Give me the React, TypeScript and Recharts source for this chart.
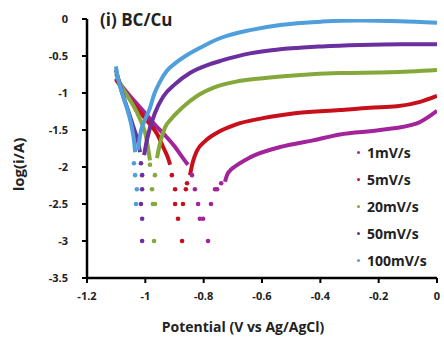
import { ComposedChart, Line, Scatter, XAxis, YAxis } from 'recharts'

type Pt = { v: number; i: number }
const pts = (a: number[][]): Pt[] => a.map(([v, i]) => ({ v, i }))

const seriesNames = ['1mV/s', '5mV/s', '20mV/s', '50mV/s', '100mV/s']
const seriesColors = ['#a3239b', '#c8101c', '#84a83a', '#6b2fa0', '#4f9fdc']
const xTicks = [-1.2, -1, -0.8, -0.6, -0.4, -0.2, 0]
const yTicks = [0, -0.5, -1, -1.5, -2, -2.5, -3, -3.5]

// 1 mV/s
const cath1 = pts([[-1.101, -0.8], [-1.07, -0.96], [-1.035, -1.12], [-1.001, -1.27], [-0.967, -1.43], [-0.933, -1.57], [-0.898, -1.73], [-0.871, -1.88], [-0.854, -1.97]])
const dots1 = pts([[-0.84, -2.11], [-0.83, -2.3], [-0.819, -2.5], [-0.813, -2.7], [-0.785, -3.0], [-0.802, -2.7], [-0.775, -2.5], [-0.761, -2.3], [-0.754, -2.3], [-0.74, -2.22]])
const anod1 = pts([[-0.727, -2.2], [-0.72, -2.11], [-0.71, -2.05], [-0.695, -2.0], [-0.641, -1.87], [-0.538, -1.73], [-0.425, -1.64], [-0.333, -1.56], [-0.195, -1.5], [-0.069, -1.41], [0, -1.24]])
// 5 mV/s
const cath5 = pts([[-1.101, -0.82], [-1.07, -0.99], [-1.042, -1.14], [-1.018, -1.26], [-0.991, -1.39], [-0.96, -1.55], [-0.939, -1.73], [-0.922, -1.88], [-0.915, -1.97]])
const dots5 = pts([[-0.909, -2.11], [-0.898, -2.3], [-0.898, -2.5], [-0.888, -2.7], [-0.874, -3.0], [-0.871, -2.5], [-0.861, -2.3], [-0.857, -2.22]])
const anod5 = pts([[-0.847, -2.11], [-0.837, -1.93], [-0.823, -1.78], [-0.795, -1.65], [-0.751, -1.53], [-0.693, -1.43], [-0.597, -1.34], [-0.48, -1.27], [-0.333, -1.23], [-0.23, -1.2], [-0.137, -1.18], [-0.058, -1.12], [0, -1.04]])
// 20 mV/s
const cath20 = pts([[-1.101, -0.74], [-1.08, -0.92], [-1.053, -1.09], [-1.029, -1.26], [-1.011, -1.42], [-0.998, -1.58], [-0.991, -1.74], [-0.984, -1.91]])
const dots20 = pts([[-0.984, -1.97], [-0.967, -2.11], [-0.977, -2.3], [-0.974, -2.5], [-0.967, -2.5], [-0.97, -3.0]])
const anod20 = pts([[-0.96, -1.88], [-0.953, -1.74], [-0.947, -1.64], [-0.933, -1.47], [-0.909, -1.34], [-0.874, -1.2], [-0.819, -1.03], [-0.761, -0.92], [-0.693, -0.85], [-0.597, -0.8], [-0.48, -0.76], [-0.333, -0.73], [-0.161, -0.72], [0, -0.69]])
// 50 mV/s
const cath50 = pts([[-1.101, -0.69], [-1.09, -0.85], [-1.077, -1.03], [-1.063, -1.19], [-1.049, -1.36], [-1.035, -1.53], [-1.025, -1.66], [-1.018, -1.8]])
const dots50 = pts([[-1.015, -1.95], [-1.011, -2.11], [-1.011, -2.3], [-1.015, -2.5], [-1.011, -2.7], [-1.011, -3.0]])
const anod50 = pts([[-1.004, -1.84], [-0.998, -1.7], [-0.984, -1.47], [-0.967, -1.27], [-0.939, -1.05], [-0.898, -0.88], [-0.847, -0.73], [-0.778, -0.61], [-0.737, -0.56], [-0.641, -0.465], [-0.538, -0.41], [-0.394, -0.37], [-0.264, -0.35], [-0.127, -0.34], [0, -0.34]])
// 100 mV/s
const cath100 = pts([[-1.101, -0.64], [-1.094, -0.8], [-1.083, -0.96], [-1.07, -1.12], [-1.056, -1.3], [-1.046, -1.47], [-1.039, -1.64], [-1.035, -1.8]])
const dots100 = pts([[-1.039, -1.95], [-1.035, -2.11], [-1.029, -2.3], [-1.032, -2.5]])
const anod100 = pts([[-1.025, -1.77], [-1.018, -1.57], [-1.001, -1.36], [-0.984, -1.2], [-0.97, -1.02], [-0.95, -0.85], [-0.926, -0.7], [-0.898, -0.6], [-0.854, -0.48], [-0.813, -0.39], [-0.768, -0.3], [-0.737, -0.25], [-0.641, -0.15], [-0.538, -0.08], [-0.394, -0.035], [-0.264, -0.02], [-0.127, -0.03], [0, -0.05]])

const curves = [
  { cath: cath1, dots: dots1, anod: anod1 },
  { cath: cath5, dots: dots5, anod: anod5 },
  { cath: cath20, dots: dots20, anod: anod20 },
  { cath: cath50, dots: dots50, anod: anod50 },
  { cath: cath100, dots: dots100, anod: anod100 },
]

const font = '"Open Sans", sans-serif'
const tickStyle = { fontSize: 11, fontWeight: 700, fill: '#222', fontFamily: font }

export default function App() {
  return (
    <div style={{ position: 'absolute', left: 0, top: 0, width: 444, height: 350 }}>
      <ComposedChart width={444} height={350} margin={{ top: 19, right: 7, bottom: 42, left: 27 }}>
        <XAxis
          dataKey="v"
          type="number"
          domain={[-1.2, 0]}
          ticks={xTicks}
          tick={tickStyle}
          tickSize={5}
          tickMargin={9}
          height={30}
          axisLine={{ stroke: '#000', strokeWidth: 2.5 }}
          tickLine={{ stroke: '#000', strokeWidth: 2 }}
          allowDataOverflow
          label={{ value: 'Potential (V vs Ag/AgCl)', position: 'bottom', offset: 14, dx: -19, style: { fontSize: 14, fontWeight: 700, fill: '#222', fontFamily: font } }}
        />
        <YAxis
          type="number"
          domain={[-3.5, 0]}
          ticks={yTicks}
          tick={tickStyle}
          tickSize={5}
          tickMargin={14}
          width={60}
          axisLine={{ stroke: '#000', strokeWidth: 2.5 }}
          tickLine={{ stroke: '#000', strokeWidth: 2 }}
          allowDataOverflow
          label={{ value: 'log(i/A)', angle: -90, position: 'insideLeft', offset: -8, dy: 16, style: { textAnchor: 'middle', fontSize: 15, fontWeight: 700, fill: '#222', fontFamily: font } }}
        />
        {curves.map((c, k) => [
          <Line key={`c${k}`} type="monotone" data={c.cath} dataKey="i" stroke={seriesColors[k]} strokeWidth={4} dot={false} isAnimationActive={false} />,
          <Line key={`a${k}`} type="monotone" data={c.anod} dataKey="i" stroke={seriesColors[k]} strokeWidth={4} dot={false} isAnimationActive={false} />,
          <Scatter
            key={`d${k}`}
            data={c.dots}
            dataKey="i"
            fill={seriesColors[k]}
            isAnimationActive={false}
            shape={(p: any) => <circle cx={p.cx} cy={p.cy} r={2.3} fill={seriesColors[k]} />}
          />,
        ])}
      </ComposedChart>
      <div style={{ position: 'absolute', left: 100, top: 8, fontFamily: font, fontWeight: 700, fontSize: 17, color: '#222' }}>
        (i) BC/Cu
      </div>
      <div style={{ position: 'absolute', left: 357, top: 139, fontFamily: font, fontWeight: 700, fontSize: 14, color: '#222' }}>
        {seriesNames.map((n, k) => (
          <div key={n} style={{ height: 27, display: 'flex', alignItems: 'center' }}>
            <span style={{ width: 3, height: 3, borderRadius: 2, background: seriesColors[k], marginRight: 7 }} />
            {n}
          </div>
        ))}
      </div>
    </div>
  )
}
